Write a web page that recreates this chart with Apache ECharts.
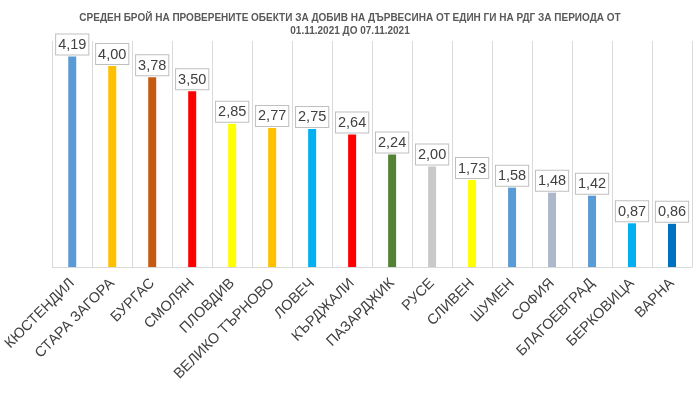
<!DOCTYPE html>
<html>
<head>
<meta charset="utf-8">
<script src="https://cdn.jsdelivr.net/npm/echarts@6/dist/echarts.min.js"></script>
<style>html,body{margin:0;padding:0;background:#fff}#c{width:700px;height:394px}</style>
</head>
<body>
<div id="c"></div>
<script>
const categories = ['КЮСТЕНДИЛ','СТАРА ЗАГОРА','БУРГАС','СМОЛЯН','ПЛОВДИВ','ВЕЛИКО ТЪРНОВО','ЛОВЕЧ','КЪРДЖАЛИ','ПАЗАРДЖИК','РУСЕ','СЛИВЕН','ШУМЕН','СОФИЯ','БЛАГОЕВГРАД','БЕРКОВИЦА','ВАРНА'];
const values = [4.19,4.00,3.78,3.50,2.85,2.77,2.75,2.64,2.24,2.00,1.73,1.58,1.48,1.42,0.87,0.86];
const colors = ['#5B9BD5','#FFC000','#C55A11','#FF0000','#FFFF00','#FFC000','#00B0F0','#FF0000','#548235','#C9C9C9','#FFFF00','#5B9BD5','#ADB9CA','#5B9BD5','#00B0F0','#0070C0'];
const titleLines = ['СРЕДЕН БРОЙ НА ПРОВЕРЕНИТЕ ОБЕКТИ ЗА ДОБИВ НА ДЪРВЕСИНА ОТ ЕДИН ГИ НА РДГ ЗА ПЕРИОДА ОТ','01.11.2021 ДО 07.11.2021'];

const chart = echarts.init(document.getElementById('c'));
chart.setOption({
  animation: false,
  backgroundColor: '#fff',
  title: {
    text: titleLines.join('\n'),
    left: 'center',
    top: 7,
    textStyle: {fontFamily: 'Liberation Sans', fontSize: 10, fontWeight: 'bold', color: '#595959', lineHeight: 13}
  },
  grid: {left: 52, right: 8, top: 41, bottom: 127, containLabel: false},
  xAxis: {
    type: 'category',
    data: categories,
    axisLine: {lineStyle: {color: '#D9D9D9'}},
    axisTick: {show: false},
    splitLine: {show: true, lineStyle: {color: '#D9D9D9'}},
    axisLabel: {rotate: 45, interval: 0, margin: 14, fontFamily: 'Liberation Sans', fontSize: 14.5, color: '#404040'}
  },
  yAxis: {
    type: 'value', min: 0, max: 4.5, interval: 0.5, show: false
  },
  series: [{
    type: 'bar',
    data: values.map((v, i) => ({value: v, itemStyle: {color: colors[i]}})),
    barWidth: 8,
    label: {
      show: true,
      position: 'top',
      distance: 2,
      formatter: p => p.value.toFixed(2).replace('.', ','),
      fontFamily: 'Liberation Sans',
      fontSize: 14.5,
      color: '#404040',
      backgroundColor: '#fff',
      borderColor: '#BFBFBF',
      borderWidth: 1,
      padding: [3, 2, 2, 2]
    }
  }]
});
</script>
</body>
</html>
